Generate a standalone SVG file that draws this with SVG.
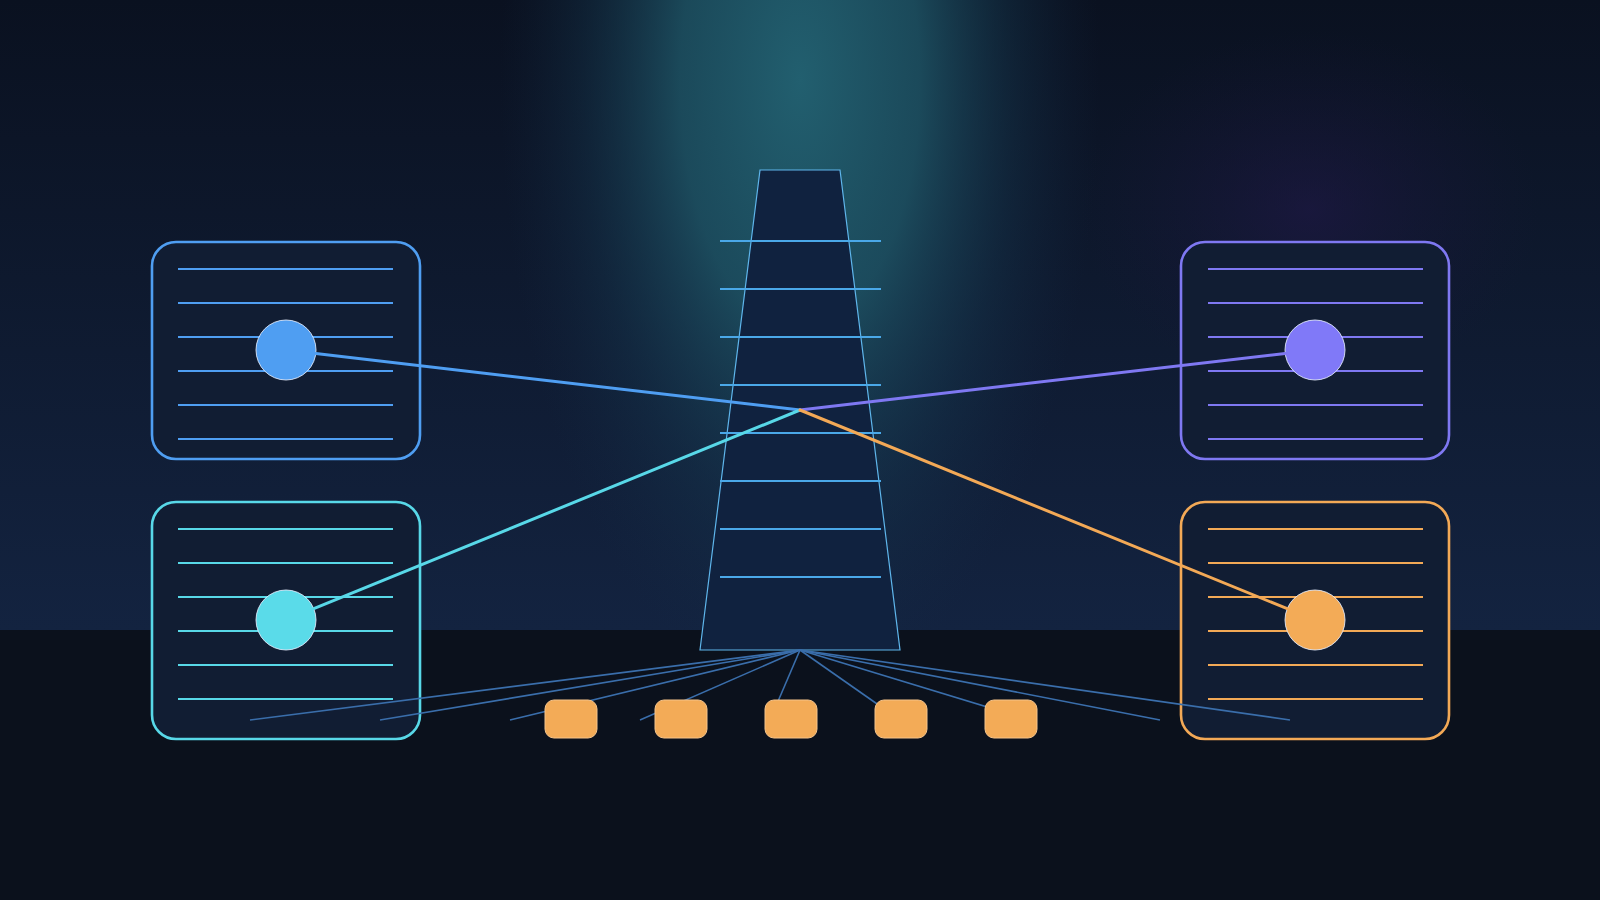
<svg xmlns="http://www.w3.org/2000/svg" width="1600" height="900" viewBox="0 0 1600 900">
<defs>
<linearGradient id="sky" x1="0" y1="0" x2="0" y2="1">
<stop offset="0" stop-color="#0a1120"/>
<stop offset="1" stop-color="#132340"/>
</linearGradient>
<radialGradient id="glow" cx="0.5" cy="0.5" r="0.5">
<stop offset="0" stop-color="#236373" stop-opacity="0.95"/>
<stop offset="0.4" stop-color="#1f5768" stop-opacity="0.8"/>
<stop offset="0.72" stop-color="#173d55" stop-opacity="0.35"/>
<stop offset="1" stop-color="#132a45" stop-opacity="0"/>
</radialGradient>
<radialGradient id="pglow" cx="0.5" cy="0.5" r="0.5">
<stop offset="0" stop-color="#22184a" stop-opacity="0.55"/>
<stop offset="1" stop-color="#1a1538" stop-opacity="0"/>
</radialGradient>
<style>
.box{fill:#111d33;stroke-width:2.6}
.ln{stroke-width:2}
.dot{stroke:#e6eeff;stroke-width:1;stroke-opacity:0.85}
.blue{stroke:#4f9ef2}
.cyan{stroke:#58d8e8}
.purple{stroke:#7f78f2}
.orange{stroke:#f3a956}
.conn{fill:none;stroke-width:3;stroke-linecap:round}
.fan{stroke:#3a6eab;stroke-width:1.6;fill:none}
.rung{stroke:#4aa8e8;stroke-width:2}
.chip{fill:#f3ab57;stroke:#f6c48a;stroke-width:1}
</style>
</defs>

<g id="background">
<rect x="0" y="0" width="1600" height="630" fill="url(#sky)"/>
<ellipse cx="1310" cy="210" rx="230" ry="180" fill="url(#pglow)"/>
<ellipse cx="800" cy="80" rx="300" ry="620" fill="url(#glow)"/>
<rect x="0" y="630" width="1600" height="270" fill="#0b111c"/>
</g>

<g id="node-top-left">
<rect class="box blue" x="152" y="242" width="268" height="217" rx="24"/>
<g class="ln blue">
<line x1="178" y1="269" x2="393" y2="269"/>
<line x1="178" y1="303" x2="393" y2="303"/>
<line x1="178" y1="337" x2="393" y2="337"/>
<line x1="178" y1="371" x2="393" y2="371"/>
<line x1="178" y1="405" x2="393" y2="405"/>
<line x1="178" y1="439" x2="393" y2="439"/>
</g>
<circle class="dot" cx="286" cy="350" r="30" fill="#4f9ef2"/>
</g>

<g id="node-bottom-left">
<rect class="box cyan" x="152" y="502" width="268" height="237" rx="24"/>
<g class="ln cyan">
<line x1="178" y1="529" x2="393" y2="529"/>
<line x1="178" y1="563" x2="393" y2="563"/>
<line x1="178" y1="597" x2="393" y2="597"/>
<line x1="178" y1="631" x2="393" y2="631"/>
<line x1="178" y1="665" x2="393" y2="665"/>
<line x1="178" y1="699" x2="393" y2="699"/>
</g>
<circle class="dot" cx="286" cy="620" r="30" fill="#5adbe9"/>
</g>

<g id="node-top-right">
<rect class="box purple" x="1181" y="242" width="268" height="217" rx="24"/>
<g class="ln purple">
<line x1="1208" y1="269" x2="1423" y2="269"/>
<line x1="1208" y1="303" x2="1423" y2="303"/>
<line x1="1208" y1="337" x2="1423" y2="337"/>
<line x1="1208" y1="371" x2="1423" y2="371"/>
<line x1="1208" y1="405" x2="1423" y2="405"/>
<line x1="1208" y1="439" x2="1423" y2="439"/>
</g>
<circle class="dot" cx="1315" cy="350" r="30" fill="#8079f8"/>
</g>

<g id="node-bottom-right">
<rect class="box orange" x="1181" y="502" width="268" height="237" rx="24"/>
<g class="ln orange">
<line x1="1208" y1="529" x2="1423" y2="529"/>
<line x1="1208" y1="563" x2="1423" y2="563"/>
<line x1="1208" y1="597" x2="1423" y2="597"/>
<line x1="1208" y1="631" x2="1423" y2="631"/>
<line x1="1208" y1="665" x2="1423" y2="665"/>
<line x1="1208" y1="699" x2="1423" y2="699"/>
</g>
<circle class="dot" cx="1315" cy="620" r="30" fill="#f3ab57"/>
</g>

<g id="node-tower">
<polygon points="760,170 840,170 900,650 700,650" fill="#10223f" stroke="#5fb6ec" stroke-width="1.2"/>
<g class="rung">
<line x1="720" y1="241" x2="881" y2="241"/>
<line x1="720" y1="289" x2="881" y2="289"/>
<line x1="720" y1="337" x2="881" y2="337"/>
<line x1="720" y1="385" x2="881" y2="385"/>
<line x1="720" y1="433" x2="881" y2="433"/>
<line x1="720" y1="481" x2="881" y2="481"/>
<line x1="720" y1="529" x2="881" y2="529"/>
<line x1="720" y1="577" x2="881" y2="577"/>
</g>
</g>

<g id="connectors">
<line class="conn blue" x1="315.8" y1="353.5" x2="800" y2="410"/>
<line class="conn cyan" x1="313.8" y1="608.7" x2="800" y2="410"/>
<line class="conn purple" x1="1285.2" y1="353.5" x2="800" y2="410"/>
<line class="conn orange" x1="1287.2" y1="608.7" x2="800" y2="410"/>
<g class="fan">
<line x1="800" y1="650" x2="250" y2="720"/>
<line x1="800" y1="650" x2="380" y2="720"/>
<line x1="800" y1="650" x2="510" y2="720"/>
<line x1="800" y1="650" x2="640" y2="720"/>
<line x1="800" y1="650" x2="770" y2="720"/>
<line x1="800" y1="650" x2="900" y2="720"/>
<line x1="800" y1="650" x2="1030" y2="720"/>
<line x1="800" y1="650" x2="1160" y2="720"/>
<line x1="800" y1="650" x2="1290" y2="720"/>
</g>
</g>

<g id="chip-1"><rect class="chip" x="545" y="700" width="52" height="38" rx="9"/></g>
<g id="chip-2"><rect class="chip" x="655" y="700" width="52" height="38" rx="9"/></g>
<g id="chip-3"><rect class="chip" x="765" y="700" width="52" height="38" rx="9"/></g>
<g id="chip-4"><rect class="chip" x="875" y="700" width="52" height="38" rx="9"/></g>
<g id="chip-5"><rect class="chip" x="985" y="700" width="52" height="38" rx="9"/></g>
</svg>
